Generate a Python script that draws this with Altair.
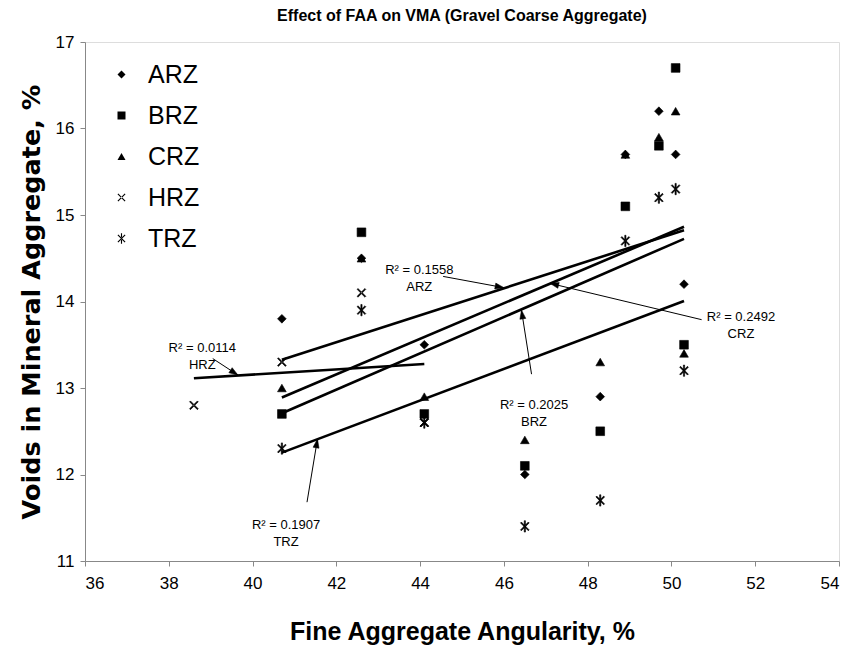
import math
import altair as alt
import pandas as pd

# ---------------- data ----------------
faa = [40.7, 42.6, 44.1, 46.5, 48.3, 48.9, 49.7, 50.1, 50.3]
arz = [13.8, 14.5, 13.5, 12.0, 12.9, 15.7, 16.2, 15.7, 14.2]
brz = [12.7, 14.8, 12.7, 12.1, 12.5, 15.1, 15.8, 16.7, 13.5]
crz = [13.0, 14.5, 12.9, 12.4, 13.3, 15.7, 15.9, 16.2, 13.4]
trz = [12.3, 13.9, 12.6, 11.4, 11.7, 14.7, 15.2, 15.3, 13.2]
hrz_faa = [38.6, 40.7, 42.6, 44.1]
hrz = [12.8, 13.3, 14.1, 12.6]

series_names = ["ARZ", "BRZ", "CRZ", "HRZ", "TRZ"]
x_ticks = [36, 38, 40, 42, 44, 46, 48, 50, 52, 54]
y_ticks = [11, 12, 13, 14, 15, 16, 17]

ann_labels = ["R² = 0.1558\nARZ", "R² = 0.0114\nHRZ", "R² = 0.1907\nTRZ",
              "R² = 0.2025\nBRZ", "R² = 0.2492\nCRZ"]
ann_x = [43.98, 38.8, 40.8, 46.72, 51.66]
ann_y = [14.36, 13.46, 11.42, 12.80, 13.82]
arrow_x1 = [44.55, 39.05, 41.3, 46.66, 50.72]
arrow_y1 = [14.29, 13.34, 11.68, 13.16, 13.79]
arrow_x2 = [46.0, 39.65, 41.55, 46.42, 47.1]
arrow_y2 = [14.16, 13.15, 12.41, 13.9, 14.21]

# ---------------- layout ----------------
W, H = 754, 519
X0, X1, Y0, Y1 = 36, 54, 11, 17
kx = W / (X1 - X0)
ky = H / (Y1 - Y0)
FONT = "Liberation Sans"

rows = []
for name, xs, ys in [("ARZ", faa, arz), ("BRZ", faa, brz), ("CRZ", faa, crz),
                     ("HRZ", hrz_faa, hrz), ("TRZ", faa, trz)]:
    for xv, yv in zip(xs, ys):
        rows.append({"Series": name, "FAA": xv, "VMA": yv, "idx": len(rows)})
df = pd.DataFrame(rows)

ann_df = pd.DataFrame({"label": ann_labels, "x": ann_x, "y": ann_y})
angles = []
for xa, ya, xb, yb in zip(arrow_x1, arrow_y1, arrow_x2, arrow_y2):
    a = math.degrees(math.atan2((xb - xa) * kx, (yb - ya) * ky)) % 360
    angles.append(a)
arr_df = pd.DataFrame({"x1": arrow_x1, "y1": arrow_y1, "x2": arrow_x2,
                       "y2": arrow_y2, "angle": angles})

# filled outlines so that every symbol (also the thin crosses) shows in legend
d = 0.2
e = 0.14
x_path = (f"M-1,{-1 + d}L{-1 + d},-1L1,{1 - d}L{1 - d},1Z"
          f"M1,{-1 + d}L{1 - d},-1L-1,{1 - d}L{-1 + d},1Z")
ast_path = x_path + f"M{-e},-1.3L{e},-1.3L{e},1.3L{-e},1.3Z"
shapes = ["diamond", "square", "triangle-up", x_path, ast_path]

xsc = alt.Scale(domain=[X0, X1], nice=False, zero=False)
ysc = alt.Scale(domain=[Y0, Y1], nice=False, zero=False)
xax = alt.Axis(values=x_ticks, title="Fine Aggregate Angularity, %", grid=False,
               labelFontSize=17, titleFontSize=25, titlePadding=28, labelPadding=9,
               tickSize=5, format="d", titleFont=FONT)
yax = alt.Axis(values=y_ticks, title="Voids in Mineral Aggregate, %", grid=False,
               labelFontSize=17, titleFontSize=25.5, titlePadding=11, labelPadding=6,
               tickSize=5, format="d", titleFont="DejaVu Sans")

reg = alt.Chart(df).transform_regression(
    "FAA", "VMA", groupby=["Series"]
).mark_line(color="black", strokeWidth=2.6).encode(
    x=alt.X("FAA:Q", scale=xsc, axis=xax),
    y=alt.Y("VMA:Q", scale=ysc, axis=yax),
    detail="Series:N",
)

points = alt.Chart(df).mark_point(
    filled=True, fill="black", stroke="black", strokeWidth=0.6, size=76, opacity=1
).encode(
    x=alt.X("FAA:Q", scale=xsc, axis=xax),
    y=alt.Y("VMA:Q", scale=ysc, axis=yax),
    shape=alt.Shape("Series:N",
                    scale=alt.Scale(domain=series_names, range=shapes),
                    legend=alt.Legend(title=None, orient="none", legendX=24, legendY=20,
                                      labelFontSize=25, labelFont=FONT, labelOffset=14,
                                      symbolSize=64, rowPadding=15, padding=0,
                                      symbolFillColor="black", symbolStrokeColor="black",
                                      symbolStrokeWidth=0.6, symbolOpacity=1)),
    order=alt.Order("idx:Q"),
)

arrows = alt.Chart(arr_df).mark_rule(color="black", strokeWidth=1).encode(
    x=alt.X("x1:Q", scale=xsc), y=alt.Y("y1:Q", scale=ysc),
    x2="x2:Q", y2="y2:Q",
)

heads = alt.Chart(arr_df).mark_point(
    shape="M0,0L0.75,2.2L-0.75,2.2Z", filled=True, fill="black", stroke="black",
    strokeWidth=0.5, size=64, opacity=1
).encode(
    x=alt.X("x2:Q", scale=xsc), y=alt.Y("y2:Q", scale=ysc),
    angle=alt.Angle("angle:Q", scale=None),
)

texts = alt.Chart(ann_df).mark_text(
    font=FONT, fontSize=13, lineBreak="\n", align="center", baseline="middle",
    lineHeight=17, color="black"
).encode(
    x=alt.X("x:Q", scale=xsc), y=alt.Y("y:Q", scale=ysc), text="label:N"
)

chart = alt.layer(reg, points, arrows, heads, texts).properties(
    width=W, height=H,
    title=alt.TitleParams("Effect of  FAA on VMA (Gravel Coarse Aggregate)",
                          fontSize=16, font=FONT, fontWeight="bold", anchor="middle",
                          offset=9, color="black"),
    padding={"left": 77, "top": 34, "right": 5, "bottom": 90},
    autosize="none",
).configure_view(
    stroke="black", strokeWidth=2
).configure_axis(
    domainColor="black", domainWidth=2, tickColor="black", tickWidth=1,
    labelColor="black", titleColor="black", labelFont=FONT,
    titleFontWeight="bold"
).configure(background="white")

chart.save("out.html", embed_options={"renderer": "svg", "actions": False})
